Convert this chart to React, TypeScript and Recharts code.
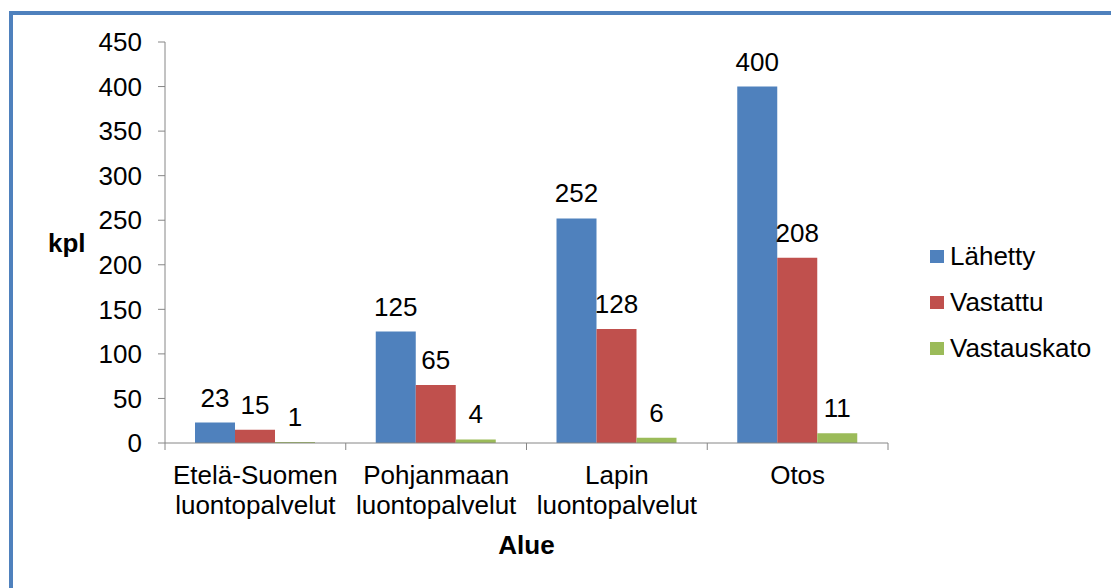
import { Bar, BarChart, LabelList, XAxis, YAxis } from "recharts";

const categories = [
  ["Etelä-Suomen", "luontopalvelut"],
  ["Pohjanmaan", "luontopalvelut"],
  ["Lapin", "luontopalvelut"],
  ["Otos"],
];
const lahetty = [23, 125, 252, 400];
const vastattu = [15, 65, 128, 208];
const vastauskato = [1, 4, 6, 11];
const yTicks = [0, 50, 100, 150, 200, 250, 300, 350, 400, 450];

const series = [
  { key: "lahetty", name: "Lähetty", color: "#4F81BD" },
  { key: "vastattu", name: "Vastattu", color: "#C0504D" },
  { key: "vastauskato", name: "Vastauskato", color: "#9BBB59" },
];

const data = categories.map((lines, i) => ({
  label: lines.join(" "),
  lahetty: lahetty[i],
  vastattu: vastattu[i],
  vastauskato: vastauskato[i],
}));

const font = "'Liberation Sans', Arial, sans-serif";
const axisGray = "#868686";

// category labels, plus tick marks on the band edges (Excel style)
const CategoryTick = ({
  x = 0,
  y = 0,
  index = 0,
  payload,
}: {
  x?: number;
  y?: number;
  index?: number;
  payload?: { offset?: number };
}) => {
  const lines = categories[index] ?? [];
  const half = payload?.offset ?? 0;
  const last = index === categories.length - 1;
  return (
    <g>
      <line x1={x - half} x2={x - half} y1={y} y2={y + 7} stroke={axisGray} />
      {last && <line x1={x + half} x2={x + half} y1={y} y2={y + 7} stroke={axisGray} />}
      <text x={x} y={y} textAnchor="middle" fill="#000" fontSize={26} fontFamily={font}>
        {lines.map((line, i) => (
          <tspan key={i} x={x} dy={i === 0 ? 41 : 30}>
            {line}
          </tspan>
        ))}
      </text>
    </g>
  );
};

function ChartLegend() {
  return (
    <div
      style={{
        position: "absolute",
        left: 930,
        top: 233,
        fontFamily: font,
        fontSize: 26,
        color: "#000",
      }}
    >
      {series.map((s) => (
        <div key={s.key} style={{ height: 46, display: "flex", alignItems: "center" }}>
          <span style={{ width: 14, height: 13, background: s.color, display: "inline-block", marginRight: 6 }} />
          <span>{s.name}</span>
        </div>
      ))}
    </div>
  );
}

export default function App() {
  return (
    <div
      style={{
        position: "fixed",
        left: 0,
        top: 0,
        width: 1111,
        height: 588,
        overflow: "hidden",
        background: "#fff",
      }}
    >
      <div
        style={{
          position: "absolute",
          left: 9,
          top: 11,
          width: 1200,
          height: 700,
          borderLeft: "4px solid #4F81BD",
          borderTop: "4px solid #4F81BD",
        }}
      />
      <div style={{ position: "absolute", left: 0, top: 0 }}>
        <BarChart
          width={1111}
          height={588}
          data={data}
          margin={{ top: 42, right: 223, bottom: 28, left: 0 }}
          barCategoryGap="16.6%"
          barGap={0}
          style={{ fontFamily: font }}
        >
          <XAxis
            dataKey="label"
            height={117}
            tickSize={0}
            tickMargin={0}
            axisLine={{ stroke: axisGray }}
            tickLine={false}
            interval={0}
            tick={<CategoryTick />}
            label={{
              value: "Alue",
              position: "insideBottom",
              offset: 6,
              fill: "#000",
              fontSize: 26,
              fontWeight: "bold",
              fontFamily: font,
            }}
          />
          <YAxis
            width={165}
            domain={[0, 450]}
            ticks={yTicks}
            interval={0}
            tickSize={7}
            tickMargin={16}
            axisLine={{ stroke: axisGray }}
            tickLine={{ stroke: axisGray }}
            tick={{ fill: "#000", fontSize: 26, fontFamily: font }}
            label={{
              value: "kpl",
              position: "insideLeft",
              offset: 48,
              fill: "#000",
              fontSize: 26,
              fontWeight: "bold",
              fontFamily: font,
            }}
          />
          {series.map((s) => (
            <Bar key={s.key} dataKey={s.key} name={s.name} fill={s.color} isAnimationActive={false}>
              <LabelList
                dataKey={s.key}
                position="top"
                offset={16}
                fill="#000"
                fontSize={26}
                fontFamily={font}
              />
            </Bar>
          ))}
        </BarChart>
      </div>
      <ChartLegend />
    </div>
  );
}
